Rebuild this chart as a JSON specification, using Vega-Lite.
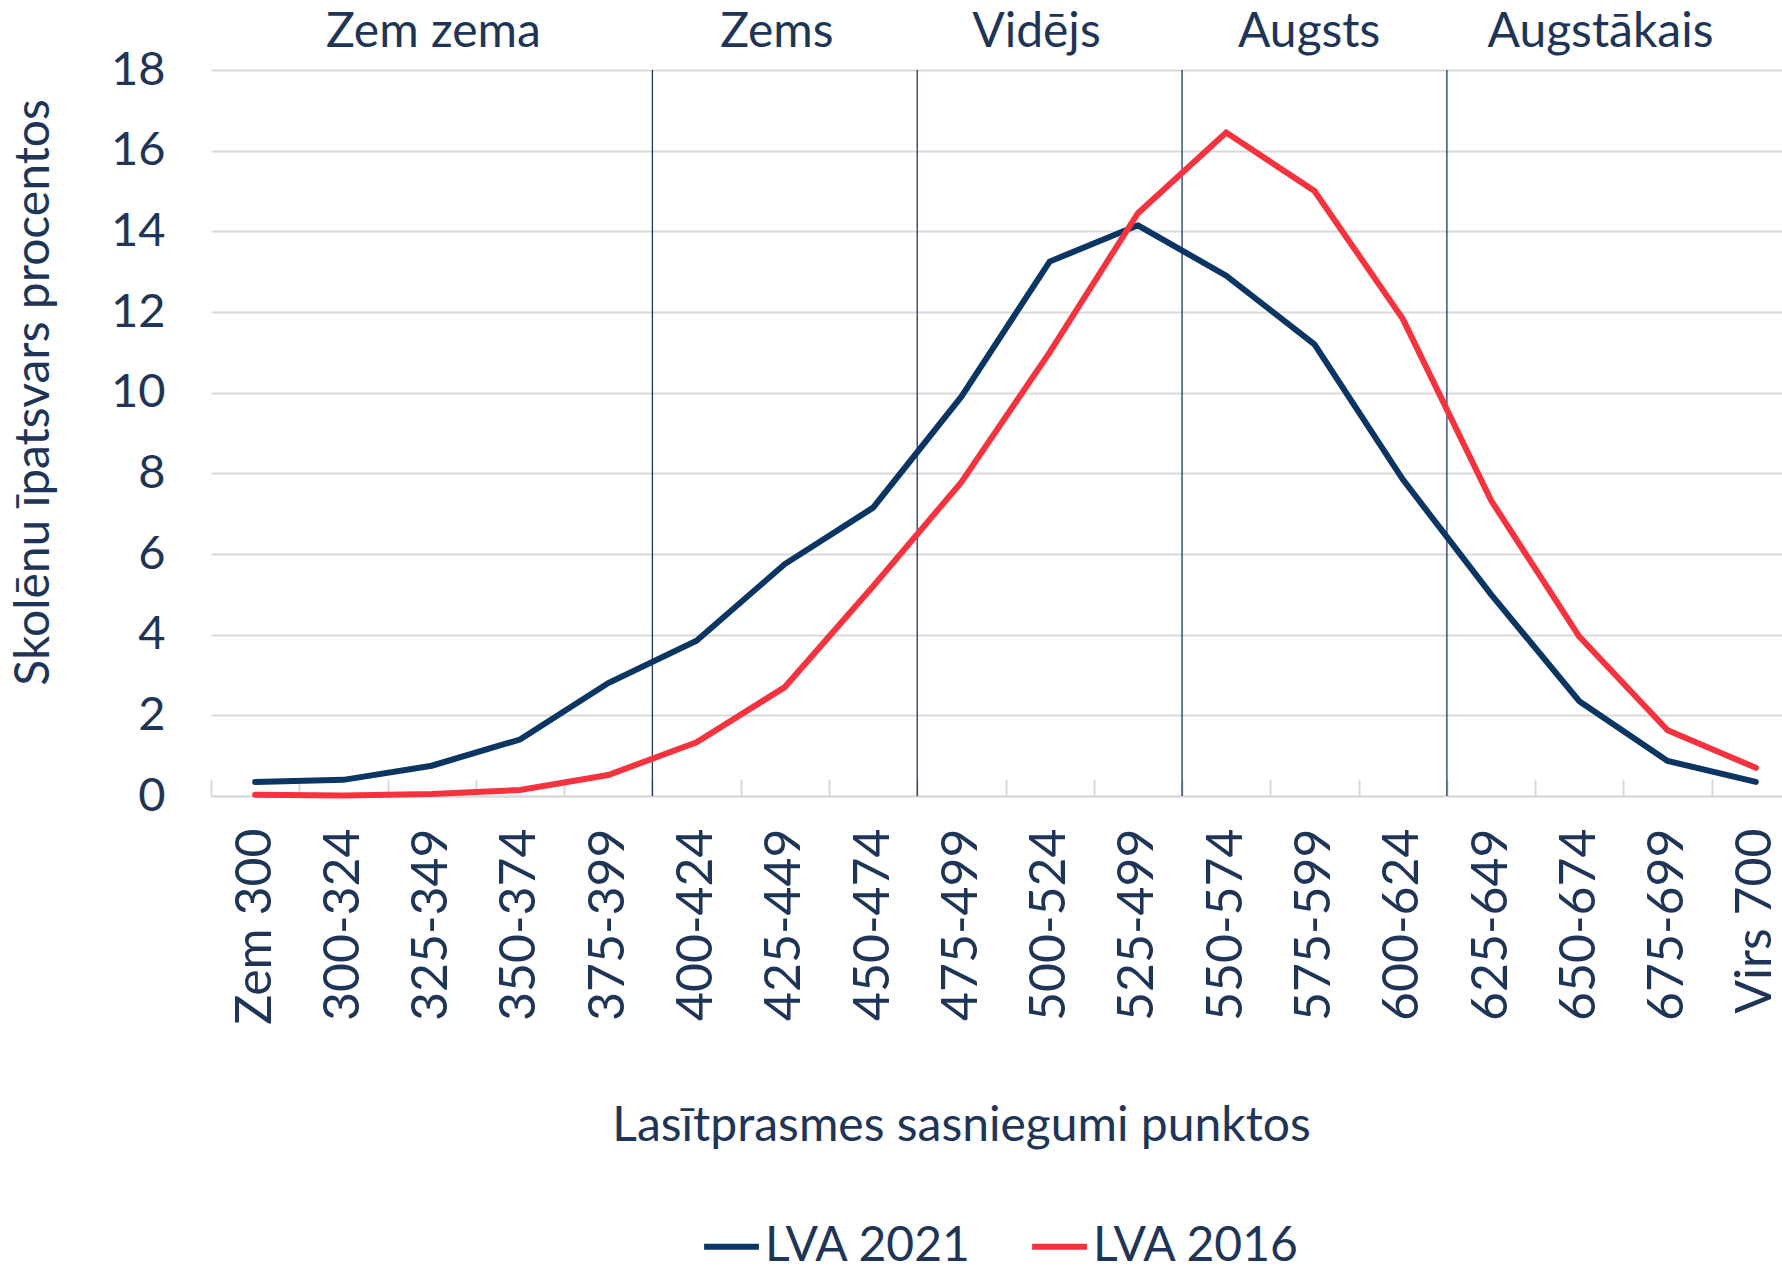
{
  "$schema": "https://vega.github.io/schema/vega-lite/v6.json",
  "width": 1589,
  "height": 726,
  "autosize": {"type": "none"},
  "padding": {"left": 211, "top": 70, "right": -18, "bottom": 474},
  "background": "white",
  "config": {
    "font": "Lato",
    "view": {"stroke": null},
    "axisX": {
      "labelAngle": -90, "labelFontSize": 50, "labelColor": "#1F3557", "labelLimit": 500,
      "tickBand": "extent", "tickSize": -17, "tickColor": "#D9D9D9", "tickWidth": 2,
      "domainColor": "#D9D9D9", "domainWidth": 2, "labelPadding": 49, "grid": false,
      "titleFontSize": 48, "titleFontWeight": "normal", "titleColor": "#1F3557",
      "titleX": 750, "titleY": 330, "titleBaseline": "middle"
    }
  },
  "datasets": {
    "scores": [
      {"range": "Zem 300", "series": "LVA 2021", "pct": 0.35},
      {"range": "300-324", "series": "LVA 2021", "pct": 0.4},
      {"range": "325-349", "series": "LVA 2021", "pct": 0.75},
      {"range": "350-374", "series": "LVA 2021", "pct": 1.4},
      {"range": "375-399", "series": "LVA 2021", "pct": 2.8},
      {"range": "400-424", "series": "LVA 2021", "pct": 3.85},
      {"range": "425-449", "series": "LVA 2021", "pct": 5.75},
      {"range": "450-474", "series": "LVA 2021", "pct": 7.15},
      {"range": "475-499", "series": "LVA 2021", "pct": 9.9},
      {"range": "500-524", "series": "LVA 2021", "pct": 13.25},
      {"range": "525-499", "series": "LVA 2021", "pct": 14.15},
      {"range": "550-574", "series": "LVA 2021", "pct": 12.9},
      {"range": "575-599", "series": "LVA 2021", "pct": 11.2},
      {"range": "600-624", "series": "LVA 2021", "pct": 7.85},
      {"range": "625-649", "series": "LVA 2021", "pct": 5.0},
      {"range": "650-674", "series": "LVA 2021", "pct": 2.35},
      {"range": "675-699", "series": "LVA 2021", "pct": 0.87},
      {"range": "Virs 700", "series": "LVA 2021", "pct": 0.35},
      {"range": "Zem 300", "series": "LVA 2016", "pct": 0.03},
      {"range": "300-324", "series": "LVA 2016", "pct": 0.01},
      {"range": "325-349", "series": "LVA 2016", "pct": 0.05},
      {"range": "350-374", "series": "LVA 2016", "pct": 0.15},
      {"range": "375-399", "series": "LVA 2016", "pct": 0.52},
      {"range": "400-424", "series": "LVA 2016", "pct": 1.33},
      {"range": "425-449", "series": "LVA 2016", "pct": 2.7},
      {"range": "450-474", "series": "LVA 2016", "pct": 5.2},
      {"range": "475-499", "series": "LVA 2016", "pct": 7.78},
      {"range": "500-524", "series": "LVA 2016", "pct": 11.0},
      {"range": "525-499", "series": "LVA 2016", "pct": 14.45},
      {"range": "550-574", "series": "LVA 2016", "pct": 16.45},
      {"range": "575-599", "series": "LVA 2016", "pct": 15.0},
      {"range": "600-624", "series": "LVA 2016", "pct": 11.83},
      {"range": "625-649", "series": "LVA 2016", "pct": 7.33},
      {"range": "650-674", "series": "LVA 2016", "pct": 3.95},
      {"range": "675-699", "series": "LVA 2016", "pct": 1.63},
      {"range": "Virs 700", "series": "LVA 2016", "pct": 0.7}
    ],
    "bounds": [
      {"range": "400-424"},
      {"range": "475-499"},
      {"range": "550-574"},
      {"range": "625-649"}
    ],
    "levels": [
      {"level": "Zem zema", "range": "325-349"},
      {"level": "Zems", "range": "425-449"},
      {"level": "Vidējs", "range": "500-524"},
      {"level": "Augsts", "range": "575-599"},
      {"level": "Augstākais", "range": "650-674"}
    ]
  },
  "layer": [
    {
      "data": {"name": "bounds"},
      "mark": {"type": "rule", "color": "#1F3864", "strokeWidth": 1.3},
      "encoding": {
        "x": {
          "field": "range", "type": "nominal", "bandPosition": 0,
          "scale": {"type": "band", "paddingInner": 0, "paddingOuter": 0,
            "domain": ["Zem 300","300-324","325-349","350-374","375-399","400-424","425-449","450-474","475-499","500-524","525-499","550-574","575-599","600-624","625-649","650-674","675-699","Virs 700"]},
          "title": "Lasītprasmes sasniegumi punktos"
        }
      }
    },
    {
      "data": {"name": "scores"},
      "mark": {"type": "line", "strokeWidth": 6, "strokeJoin": "miter", "strokeCap": "round"},
      "encoding": {
        "x": {
          "field": "range", "type": "nominal", "bandPosition": 0.5,
          "title": "Lasītprasmes sasniegumi punktos"
        },
        "y": {
          "field": "pct", "type": "quantitative",
          "scale": {"domain": [0, 18], "nice": false},
          "axis": {
            "title": "Skolēnu īpatsvars procentos",
            "values": [0,2,4,6,8,10,12,14,16,18],
            "grid": true, "gridColor": "#D9D9D9", "gridWidth": 2,
            "domain": false, "ticks": false, "labelPadding": 46,
            "labelFontSize": 47, "labelColor": "#1F3557",
            "titleFontSize": 48, "titleFontWeight": "normal", "titleColor": "#1F3557",
            "titleX": -177, "titleY": 322, "titleBaseline": "middle"
          }
        },
        "color": {
          "field": "series", "type": "nominal",
          "scale": {"domain": ["LVA 2021", "LVA 2016"], "range": ["#0B3563", "#F5333F"]},
          "legend": {
            "title": null, "orient": "none", "direction": "horizontal",
            "legendX": 490, "legendY": 1146,
            "symbolType": "stroke", "symbolSize": 3000, "symbolStrokeWidth": 6,
            "labelFontSize": 48, "labelColor": "#1F3557", "labelOffset": 3,
            "labelLimit": 500, "columnPadding": 48
          }
        }
      }
    },
    {
      "data": {"name": "levels"},
      "transform": [{"filter": "datum.level === 'Zem zema'"}],
      "mark": {"type": "text", "fontSize": 48, "color": "#1F3557", "baseline": "middle", "align": "center", "dy": -37},
      "encoding": {
        "x": {"field": "range", "type": "nominal", "bandPosition": 0.52, "title": "Lasītprasmes sasniegumi punktos"},
        "y": {"datum": 18, "type": "quantitative"},
        "text": {"field": "level"}
      }
    },
    {
      "data": {"name": "levels"},
      "transform": [{"filter": "datum.level === 'Zems'"}],
      "mark": {"type": "text", "fontSize": 48, "color": "#1F3557", "baseline": "middle", "align": "center", "dy": -37},
      "encoding": {
        "x": {"field": "range", "type": "nominal", "bandPosition": 0.41, "title": "Lasītprasmes sasniegumi punktos"},
        "y": {"datum": 18, "type": "quantitative"},
        "text": {"field": "level"}
      }
    },
    {
      "data": {"name": "levels"},
      "transform": [{"filter": "datum.level === 'Vidējs'"}],
      "mark": {"type": "text", "fontSize": 48, "color": "#1F3557", "baseline": "middle", "align": "center", "dy": -37},
      "encoding": {
        "x": {"field": "range", "type": "nominal", "bandPosition": 0.35, "title": "Lasītprasmes sasniegumi punktos"},
        "y": {"datum": 18, "type": "quantitative"},
        "text": {"field": "level"}
      }
    },
    {
      "data": {"name": "levels"},
      "transform": [{"filter": "datum.level === 'Augsts'"}],
      "mark": {"type": "text", "fontSize": 48, "color": "#1F3557", "baseline": "middle", "align": "center", "dy": -37},
      "encoding": {
        "x": {"field": "range", "type": "nominal", "bandPosition": 0.44, "title": "Lasītprasmes sasniegumi punktos"},
        "y": {"datum": 18, "type": "quantitative"},
        "text": {"field": "level"}
      }
    },
    {
      "data": {"name": "levels"},
      "transform": [{"filter": "datum.level === 'Augstākais'"}],
      "mark": {"type": "text", "fontSize": 48, "color": "#1F3557", "baseline": "middle", "align": "center", "dy": -37},
      "encoding": {
        "x": {"field": "range", "type": "nominal", "bandPosition": 0.74, "title": "Lasītprasmes sasniegumi punktos"},
        "y": {"datum": 18, "type": "quantitative"},
        "text": {"field": "level"}
      }
    }
  ]
}
